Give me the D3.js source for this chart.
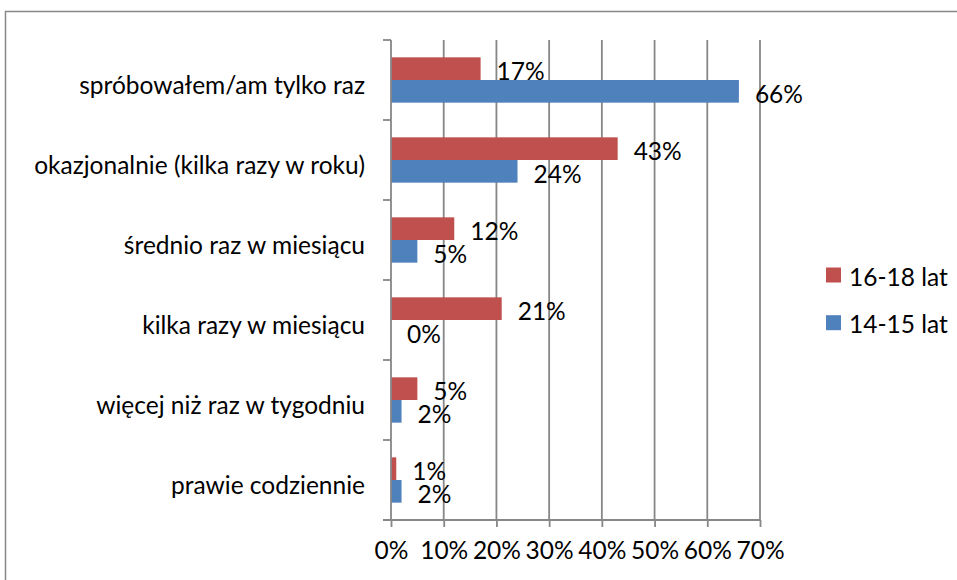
<!DOCTYPE html>
<html>
<head>
<meta charset="utf-8">
<script src="https://cdn.jsdelivr.net/npm/d3@7/dist/d3.min.js"></script>
<style>
  html, body { margin: 0; padding: 0; background: #fff; }
  svg { display: block; }
  text { font-family: Lato, "Open Sans", sans-serif; fill: #000; }
</style>
</head>
<body>
<svg id="chart" width="957" height="580"></svg>
<script>
// Frequency categories (top to bottom)
const categories = [
  "spróbowałem/am tylko raz",
  "okazjonalnie (kilka razy w roku)",
  "średnio raz w miesiącu",
  "kilka razy w miesiącu",
  "więcej niż raz w tygodniu",
  "prawie codziennie"
];
const seriesNames = ["16-18 lat", "14-15 lat"];
const values1618 = [0.17, 0.43, 0.12, 0.21, 0.05, 0.01];
const values1415 = [0.66, 0.24, 0.05, 0.00, 0.02, 0.02];
const tickValues = [0, 0.1, 0.2, 0.3, 0.4, 0.5, 0.6, 0.7];
const tickLabels = ["0%", "10%", "20%", "30%", "40%", "50%", "60%", "70%"];
const colors = ["#C0504D", "#4F81BD"];

const svg = d3.select("#chart");
const FONT = 24.5;
const gridColor = "#878787";

// chart frame
svg.append("rect")
  .attr("x", 5.5).attr("y", 11.5)
  .attr("width", 960).attr("height", 600)
  .attr("fill", "none").attr("stroke", gridColor).attr("stroke-width", 1.5);

const x = d3.scaleLinear().domain([0, 0.7]).range([391, 760]);
const y = d3.scaleBand().domain(categories).range([40, 520]);
const ySub = d3.scaleBand().domain(seriesNames)
  .range([y.bandwidth() * 0.2167, y.bandwidth() * 0.7833]);

// vertical gridlines
svg.append("g").selectAll("line")
  .data(tickValues.slice(1))
  .join("line")
  .attr("x1", d => x(d)).attr("x2", d => x(d))
  .attr("y1", 40).attr("y2", 520)
  .attr("stroke", gridColor).attr("stroke-width", 1.8);

// bars
const rows = categories.map((c, i) => ({
  cat: c,
  vals: [
    { s: seriesNames[0], v: values1618[i], color: colors[0] },
    { s: seriesNames[1], v: values1415[i], color: colors[1] }
  ]
}));

const groups = svg.append("g").selectAll("g")
  .data(rows)
  .join("g")
  .attr("transform", d => `translate(0,${y(d.cat)})`);

groups.selectAll("rect")
  .data(d => d.vals)
  .join("rect")
  .attr("x", x(0))
  .attr("y", d => ySub(d.s))
  .attr("width", d => x(d.v) - x(0))
  .attr("height", ySub.bandwidth())
  .attr("fill", d => d.color);

groups.selectAll("text")
  .data(d => d.vals)
  .join("text")
  .attr("x", d => x(d.v) + 16)
  .attr("y", d => ySub(d.s) + ySub.bandwidth() / 2 + 2)
  .attr("dominant-baseline", "central")
  .attr("font-size", FONT)
  .text(d => d3.format(".0%")(d.v));

// x axis
const xAxis = d3.axisBottom(x)
  .tickValues(tickValues)
  .tickFormat((d, i) => tickLabels[i])
  .tickSize(7)
  .tickSizeOuter(0)
  .tickPadding(15);
const gx = svg.append("g").attr("transform", "translate(0,520)").call(xAxis);
gx.select(".domain").attr("stroke", gridColor).attr("stroke-width", 1.8)
  .attr("d", `M383,0H${x(0.7)}`);
gx.selectAll(".tick line").attr("stroke", gridColor).attr("stroke-width", 1.8);
gx.selectAll(".tick text").attr("font-size", FONT).attr("font-family", "Lato").attr("fill", "#000");

// y axis: line at 0 with ticks on category boundaries
const gy = svg.append("g");
gy.append("line")
  .attr("x1", x(0)).attr("x2", x(0)).attr("y1", 40).attr("y2", 520)
  .attr("stroke", gridColor).attr("stroke-width", 1.8);
const bounds = categories.map(c => y(c)).concat([y.range()[1]]);
gy.selectAll("line.tk")
  .data(bounds)
  .join("line")
  .attr("class", "tk")
  .attr("x1", x(0) - 8).attr("x2", x(0))
  .attr("y1", d => d).attr("y2", d => d)
  .attr("stroke", gridColor).attr("stroke-width", 1.8);
gy.selectAll("text")
  .data(categories)
  .join("text")
  .attr("x", x(0) - 26)
  .attr("y", d => y(d) + y.bandwidth() / 2 + 4)
  .attr("text-anchor", "end")
  .attr("dominant-baseline", "central")
  .attr("font-size", FONT)
  .text(d => d);

// legend
const legend = svg.append("g").selectAll("g")
  .data(seriesNames)
  .join("g")
  .attr("transform", (d, i) => `translate(826,${275 + i * 47.7})`);
legend.append("rect")
  .attr("x", 0).attr("y", -7.5).attr("width", 15).attr("height", 15)
  .attr("fill", (d, i) => colors[i]);
legend.append("text")
  .attr("x", 23).attr("y", 1)
  .attr("dominant-baseline", "central")
  .attr("font-size", FONT)
  .text(d => d);
</script>
</body>
</html>
